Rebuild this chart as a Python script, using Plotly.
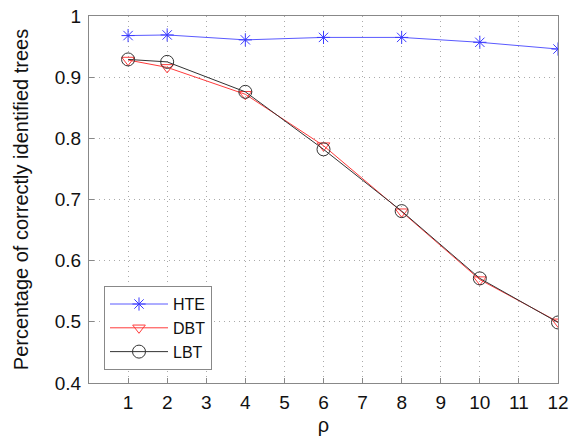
import plotly.graph_objects as go

rho = [1, 2, 4, 6, 8, 10, 12]
hte = [0.968, 0.969, 0.961, 0.965, 0.965, 0.957, 0.946]
dbt = [0.928, 0.916, 0.872, 0.788, 0.680, 0.569, 0.500]
lbt = [0.929, 0.925, 0.876, 0.782, 0.681, 0.571, 0.499]

x_ticks = list(range(1, 13))
y_ticks = [0.4, 0.5, 0.6, 0.7, 0.8, 0.9, 1.0]
y_tick_text = ["0.4", "0.5", "0.6", "0.7", "0.8", "0.9", "1"]

fig = go.Figure()
fig.add_trace(go.Scatter(x=rho, y=hte, name="HTE", mode="lines+markers",
                         line=dict(color="#5a5aff", width=1),
                         marker=dict(symbol="asterisk-open", size=11, color="#3b3bff",
                                     line=dict(width=1, color="#3b3bff"))))
fig.add_trace(go.Scatter(x=rho, y=dbt, name="DBT", mode="lines+markers",
                         line=dict(color="#ff3b3b", width=1),
                         marker=dict(symbol="triangle-down-open", size=11, color="#ff3b3b",
                                     line=dict(width=1))))
fig.add_trace(go.Scatter(x=rho, y=lbt, name="LBT", mode="lines+markers",
                         line=dict(color="#333333", width=1),
                         marker=dict(symbol="circle-open", size=13, color="#333333",
                                     line=dict(width=1))))

axis_common = dict(showline=True, linecolor="#888888", linewidth=1, mirror=True,
                   ticks="inside", ticklen=5, tickcolor="#888888",
                   showgrid=True, gridcolor="#aaaaaa", griddash="1px,4px", gridwidth=1,
                   zeroline=False, automargin=False, ticklabeloverflow="allow",
                   tickfont=dict(size=19, color="#111111"))

fig.update_layout(
    width=576, height=443,
    margin=dict(l=89, r=18, t=16, b=60),
    paper_bgcolor="white", plot_bgcolor="white",
    font=dict(family="Liberation Sans, Arial, sans-serif", color="#111111"),
    xaxis=dict(range=[0, 12], tickvals=x_ticks, ticklabelstandoff=2,
               title=dict(text="ρ", font=dict(size=20), standoff=6), **axis_common),
    yaxis=dict(range=[0.4, 1.0], tickvals=y_ticks, ticktext=y_tick_text, ticklabelstandoff=3,
               title=dict(text="\u00a0\u00a0Percentage of correctly identified trees",
                          font=dict(size=20), standoff=20),
               **axis_common),
    legend=dict(x=0.032, y=0.264, xanchor="left", yanchor="top",
                bgcolor="white", bordercolor="#888888", borderwidth=1,
                font=dict(size=16), itemwidth=58, tracegroupgap=0),
    showlegend=True,
)

fig.write_html("out.html", config={"displayModeBar": False},
               post_script="document.body.style.margin='0';")
